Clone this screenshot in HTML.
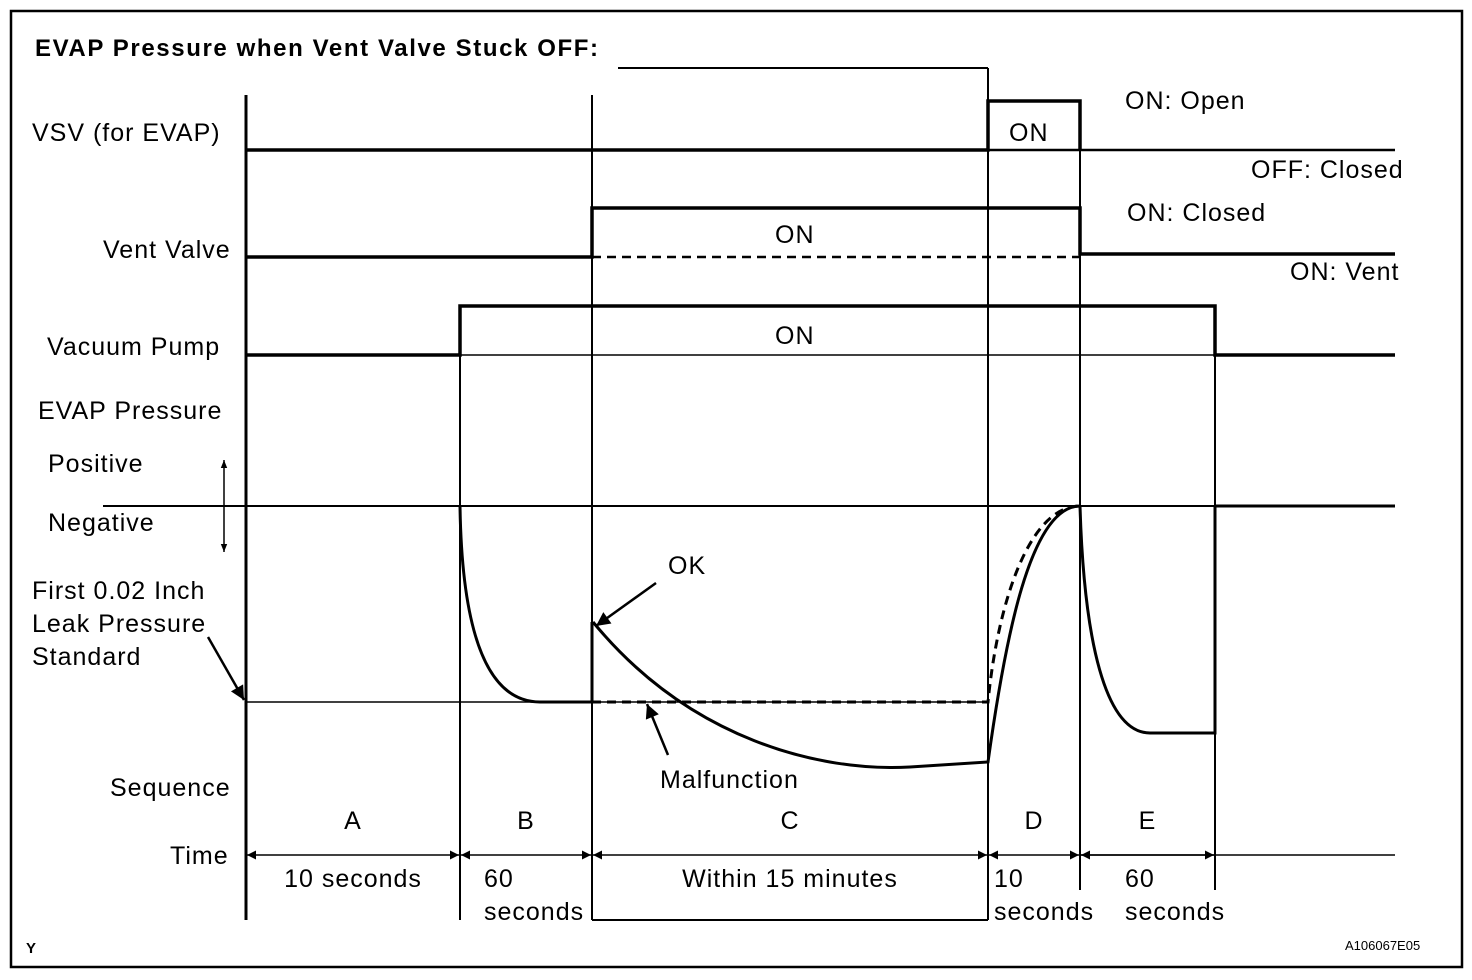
<!DOCTYPE html>
<html><head><meta charset="utf-8"><style>
html,body{margin:0;padding:0;background:#fff}
svg{display:block}
text{font-family:"Liberation Sans",Arial,sans-serif;font-size:25px;letter-spacing:1px;fill:#000}
</style></head><body>
<svg id="chart" width="1472" height="980" viewBox="0 0 1472 980" xmlns="http://www.w3.org/2000/svg">
<defs>
<marker id="ah" viewBox="0 0 10 10" refX="10" refY="5" markerWidth="10" markerHeight="8" orient="auto-start-reverse" markerUnits="userSpaceOnUse"><path d="M0,1 L10,5 L0,9 Z" fill="#000"/></marker>
<marker id="ahs" viewBox="0 0 10 10" refX="10" refY="5" markerWidth="16" markerHeight="9" orient="auto-start-reverse" markerUnits="userSpaceOnUse"><path d="M0,0 L10,5 L0,10 Z" fill="#000"/></marker>
<marker id="big" viewBox="0 0 10 10" refX="10" refY="5" markerWidth="22" markerHeight="14" orient="auto" markerUnits="userSpaceOnUse"><path d="M0,0 L10,5 L0,10 Z" fill="#000"/></marker>
</defs>
<rect x="11" y="11" width="1451" height="956" fill="none" stroke="#000" stroke-width="2.5"/>
<text x="35" y="56" style="font-weight:bold;font-size:24px;letter-spacing:1.6px">EVAP Pressure when Vent Valve Stuck OFF:</text>
<path d="M618,68 H988 M592,920 H988" stroke="#000" stroke-width="2" fill="none"/>
<g id="phases"></g>

<!-- VSV -->
<text x="32" y="141">VSV (for EVAP)</text>
<path d="M246,150 H988 V101 H1080 V150" stroke="#000" stroke-width="3.5" fill="none"/>
<path d="M988,150 H1080 M1080,150 H1395" stroke="#000" stroke-width="2.5" fill="none"/>
<text x="1009" y="141">ON</text>
<text x="1125" y="109">ON: Open</text>
<text x="1251" y="178">OFF: Closed</text>

<!-- Vent valve -->
<text x="103" y="258">Vent Valve</text>
<path d="M246,257 H592 V208 H1080 V254 H1395" stroke="#000" stroke-width="3.5" fill="none"/>
<path d="M592,257 H1080" stroke="#000" stroke-width="2.5" stroke-dasharray="9,6" fill="none"/>
<text x="775" y="243">ON</text>
<text x="1127" y="221">ON: Closed</text>
<text x="1290" y="280">ON: Vent</text>

<!-- Vacuum pump -->
<text x="47" y="355">Vacuum Pump</text>
<path d="M246,355 H460 V306 H1215 V355 H1395" stroke="#000" stroke-width="3.5" fill="none"/>
<path d="M460,355 H1215" stroke="#000" stroke-width="1.5" fill="none"/>
<text x="775" y="344">ON</text>

<!-- EVAP pressure -->
<text x="38" y="419">EVAP Pressure</text>
<text x="48" y="472">Positive</text>
<text x="48" y="531">Negative</text>
<line x1="224" y1="460" x2="224" y2="552" stroke="#000" stroke-width="1.5" marker-start="url(#ah)" marker-end="url(#ah)"/>
<path d="M103,506 H1215" stroke="#000" stroke-width="2" fill="none"/>
<path d="M1215,506 H1395" stroke="#000" stroke-width="3" fill="none"/>
<path d="M246,702 H988" stroke="#000" stroke-width="1.5" fill="none"/>
<text x="32" y="599">First 0.02 Inch</text>
<text x="32" y="632">Leak Pressure</text>
<text x="32" y="665">Standard</text>
<line x1="208" y1="637" x2="244" y2="700" stroke="#000" stroke-width="2.5" marker-end="url(#big)"/>

<path d="M460,506 C462,640 490,702 540,702 L592,702 V622" stroke="#000" stroke-width="3" fill="none"/>
<path d="M593,622 C690,740 820,772 910,767 L988,762 C1005,640 1030,506 1080,506" stroke="#000" stroke-width="3" fill="none"/>
<path d="M592,702 H988 C998,600 1030,506 1080,506" stroke="#000" stroke-width="3" stroke-dasharray="9,6" fill="none"/>
<path d="M1080,506 C1084,640 1105,733 1150,733 L1215,733 V506" stroke="#000" stroke-width="3" fill="none"/>
<text x="668" y="574">OK</text>
<line x1="656" y1="583" x2="596" y2="626" stroke="#000" stroke-width="2.5" marker-end="url(#big)"/>
<text x="660" y="788">Malfunction</text>
<line x1="668" y1="755" x2="647" y2="704" stroke="#000" stroke-width="2.5" marker-end="url(#big)"/>

<!-- Sequence / time -->
<text x="110" y="796">Sequence</text>
<text x="170" y="864">Time</text>
<line x1="1080" y1="855" x2="1395" y2="855" stroke="#000" stroke-width="1.5"/>
<g id="timerow"></g>

<text x="26" y="953" style="font-weight:bold;font-size:15px;letter-spacing:0">Y</text>
<text x="1345" y="950" style="font-size:13px;letter-spacing:0">A106067E05</text>
</svg>
<script>
// Phase boundaries and labels
const phaseBounds = [246, 460, 592, 988, 1080, 1215];
const phaseLetters = ["A", "B", "C", "D", "E"];
const phaseDurLine1 = ["10 seconds", "60", "Within 15 minutes", "10", "60"];
const phaseDurLine2 = ["", "seconds", "", "seconds", "seconds"];
const lineTops = [95, 305, 95, 68, 100, 305];
const lineBottoms = [920, 920, 920, 920, 890, 890];
const twoLineOffsets = [0, 24, 0, 6, 45];
const NS = "http://www.w3.org/2000/svg";
const pg = document.getElementById("phases");
const tr = document.getElementById("timerow");
phaseBounds.forEach((x, i) => {
  const l = document.createElementNS(NS, "line");
  
  
  l.setAttribute("x1", x); l.setAttribute("x2", x);
  l.setAttribute("y1", lineTops[i]); l.setAttribute("y2", lineBottoms[i]);
  l.setAttribute("stroke", "#000");
  l.setAttribute("stroke-width", i === 0 ? 3 : 2);
  pg.appendChild(l);
});
phaseLetters.forEach((letter, i) => {
  const x0 = phaseBounds[i], x1 = phaseBounds[i + 1];
  const cx = (x0 + x1) / 2;
  const t = document.createElementNS(NS, "text");
  
  
  t.setAttribute("x", cx); t.setAttribute("y", 829);
  t.setAttribute("text-anchor", "middle");
  t.textContent = letter;
  tr.appendChild(t);
  const a = document.createElementNS(NS, "line");
  
  
  a.setAttribute("x1", x0 + 1); a.setAttribute("x2", x1 - 1);
  a.setAttribute("y1", 855); a.setAttribute("y2", 855);
  a.setAttribute("stroke", "#000"); a.setAttribute("stroke-width", 1.5);
  a.setAttribute("marker-start", "url(#ahs)"); a.setAttribute("marker-end", "url(#ahs)");
  tr.appendChild(a);
  const two = phaseDurLine2[i] !== "";
  const lx = x0 + twoLineOffsets[i];
  const d1 = document.createElementNS(NS, "text");
  
  
  d1.setAttribute("x", two ? lx : cx);
  d1.setAttribute("y", 887);
  if (!two) d1.setAttribute("text-anchor", "middle");
  d1.textContent = phaseDurLine1[i];
  tr.appendChild(d1);
  if (two) {
    const d2 = document.createElementNS(NS, "text");
    
    
    d2.setAttribute("x", lx);
    d2.setAttribute("y", 920);
    d2.textContent = phaseDurLine2[i];
    tr.appendChild(d2);
  }
});
</script>
</body></html>
